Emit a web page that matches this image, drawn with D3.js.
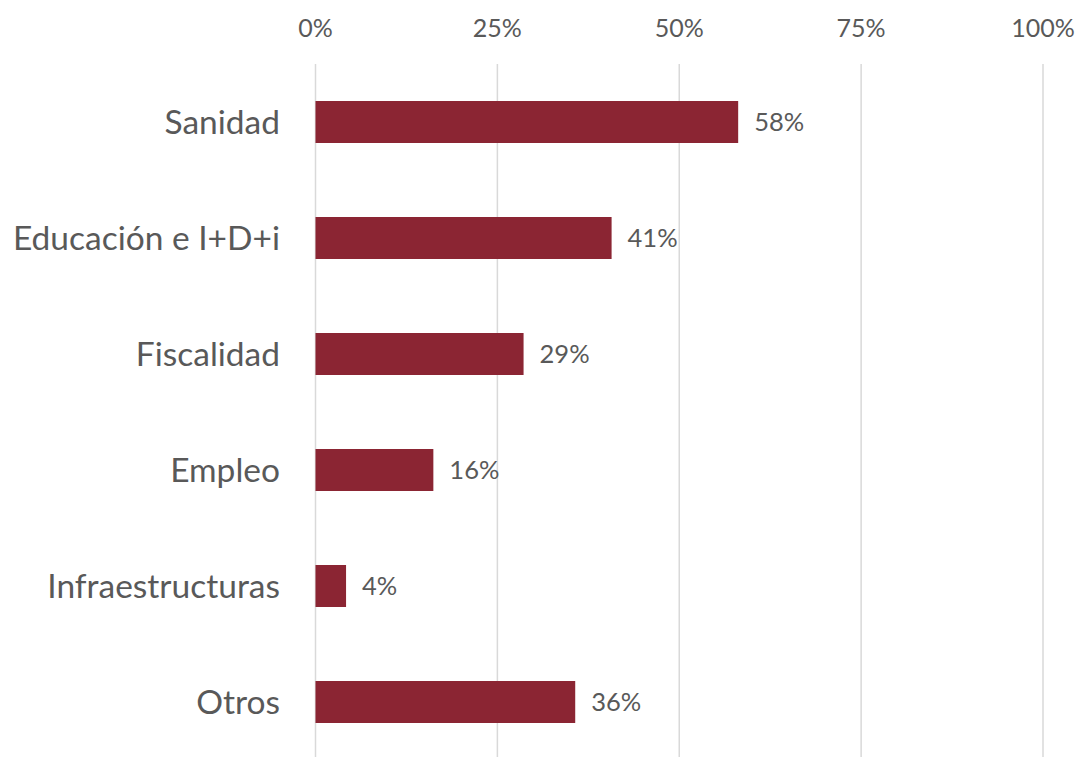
<!DOCTYPE html>
<html><head><meta charset="utf-8">
<script src="https://cdn.jsdelivr.net/npm/d3@7"></script>
<style>body{margin:0;background:#fff}svg{display:block}</style>
</head><body>
<svg id="c" width="1078" height="757"></svg>
<script>
const categories = ["Sanidad","Educación e I+D+i","Fiscalidad","Empleo","Infraestructuras","Otros"];
const values = [58.1, 40.7, 28.6, 16.2, 4.2, 35.7];
const valueLabels = ["58%","41%","29%","16%","4%","36%"];
const tickValues = [0,25,50,75,100];
const tickLabels = ["0%","25%","50%","75%","100%"];

const svg = d3.select("#c");
const x = d3.scaleLinear().domain([0,100]).range([315.5,1043]);
const y = d3.scaleBand().domain(categories).range([64,760]).paddingInner(0.638).paddingOuter(0.319);
const font = "Lato, 'Open Sans', sans-serif";
const txt = "#595959";

svg.append("g").selectAll("line").data(tickValues).join("line")
  .attr("x1", d=>x(d)).attr("x2", d=>x(d)).attr("y1",64).attr("y2",757)
  .attr("stroke","#d9d9d9").attr("stroke-width",1.5);

svg.append("g").selectAll("text").data(tickValues).join("text")
  .attr("x", d=>x(d)).attr("y",37).attr("text-anchor","middle")
  .attr("font-family",font).attr("font-size",25).attr("fill",txt)
  .text((d,i)=>tickLabels[i]);

svg.append("g").selectAll("rect").data(categories).join("rect")
  .attr("x", x(0)).attr("y", d=>y(d)).attr("height", y.bandwidth())
  .attr("width", (d,i)=>x(values[i])-x(0)).attr("fill","#8B2533");

svg.append("g").selectAll("text").data(categories).join("text")
  .attr("x", 280).attr("y", d=>y(d)+y.bandwidth()/2).attr("dy","0.35em")
  .attr("text-anchor","end").attr("font-family",font).attr("font-size",33.5).attr("fill",txt)
  .text(d=>d);

svg.append("g").selectAll("text").data(categories).join("text")
  .attr("x", (d,i)=>x(values[i])+16).attr("y", d=>y(d)+y.bandwidth()/2).attr("dy","0.35em")
  .attr("font-family",font).attr("font-size",25.5).attr("fill",txt)
  .text((d,i)=>valueLabels[i]);
</script>
</body></html>
